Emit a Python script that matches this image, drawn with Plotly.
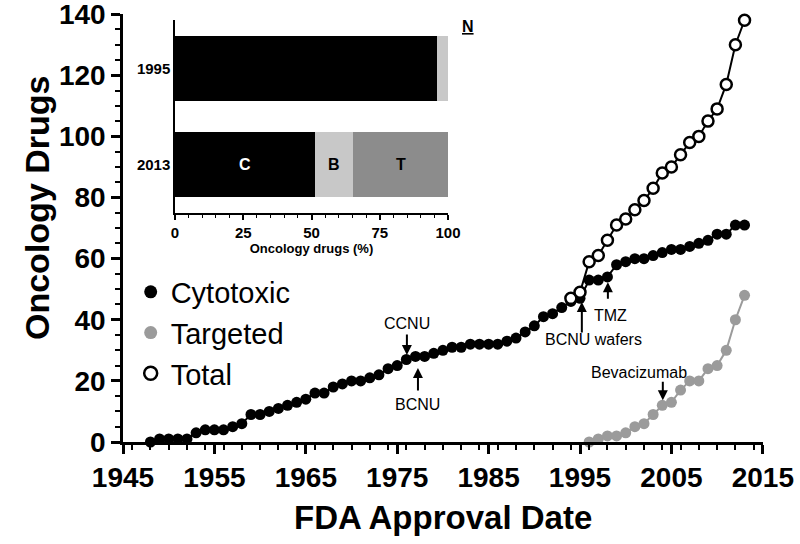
import plotly.graph_objects as go

# ---------------- data ----------------
cyt_years = list(range(1948, 2014))
cytotoxic = [0, 1, 1, 1, 1, 3, 4, 4, 4, 5, 6,
             9, 9, 10, 11, 12, 13, 14, 16, 16, 18, 19,
             20, 20, 21, 22, 24, 25, 27, 28, 28, 29,
             30, 31, 31, 32, 32, 32, 32, 33, 34, 36,
             38, 41, 42, 44, 46, 47, 53, 53, 54, 58,
             59, 60, 60, 61, 62, 63, 63, 64, 65, 66,
             68, 68, 71, 71]

tot_years = list(range(1994, 2014))
total = [47, 49, 59, 61, 66, 71, 73, 76, 79, 83, 88, 90, 94, 98, 100, 105, 109, 117, 130, 138]

tgt_years = list(range(1996, 2014))
targeted = [0, 1, 2, 2, 3, 5, 6, 9, 12, 13, 17, 20, 20, 24, 25, 30, 40, 48]

# inset: counts by class
inset_years = ["1995", "2013"]
inset_cyt = [47, 71]
inset_bio = [2, 19]
inset_tgt = [0, 48]
inset_n = [49, 138]

# annotations: (label, year, value of arrow tip, arrow offset px, text year, text value)
arrows = [
    ("CCNU", 1976.06, 28.5, -22, 1976.06, 38.9),
    ("BCNU", 1977.27, 24.2, 24, 1977.27, 12.4),
    ("TMZ", 1998.05, 52.3, 18, 1998.3, 41.5),
    ("BCNU wafers", 1995.2, 45.8, 32, 1996.5, 33.4),
    ("Bevacizumab", 2004.06, 13.7, -20, 2001.5, 22.9),
]

FONT = "Liberation Sans, Arial, Helvetica, sans-serif"
GREY = "#9b9b9b"
LIGHT = "#c8c8c8"
DARK = "#8c8c8c"

fig = go.Figure()

fig.add_trace(go.Scatter(x=cyt_years, y=cytotoxic, mode="lines+markers",
                         line=dict(color="black", width=2),
                         marker=dict(color="black", size=11),
                         showlegend=False, cliponaxis=False))
fig.add_trace(go.Scatter(x=tgt_years, y=targeted, mode="lines+markers",
                         line=dict(color=GREY, width=2),
                         marker=dict(color=GREY, size=11),
                         showlegend=False, cliponaxis=False))
fig.add_trace(go.Scatter(x=tot_years, y=total, mode="lines+markers",
                         line=dict(color="black", width=2),
                         marker=dict(color="white", size=11, line=dict(color="black", width=2.5)),
                         showlegend=False, cliponaxis=False))

# legend-only entries (markers only)
fig.add_trace(go.Scatter(x=[None], y=[None], mode="markers", name="Cytotoxic",
                         marker=dict(color="black", size=13)))
fig.add_trace(go.Scatter(x=[None], y=[None], mode="markers", name="Targeted",
                         marker=dict(color=GREY, size=13)))
fig.add_trace(go.Scatter(x=[None], y=[None], mode="markers", name="Total",
                         marker=dict(color="white", size=13, line=dict(color="black", width=2.5))))

# inset stacked bars (numeric positions: 2013 -> 0, 1995 -> 1)
pct_c = [c / n * 100 for c, n in zip(inset_cyt, inset_n)]
pct_b = [b / n * 100 for b, n in zip(inset_bio, inset_n)]
pct_t = [t / n * 100 for t, n in zip(inset_tgt, inset_n)]
ypos = {"2013": 0, "1995": 1}
inset_pos = [ypos[y] for y in inset_years]
for vals, col in [(pct_c, "black"), (pct_b, LIGHT), (pct_t, DARK)]:
    fig.add_trace(go.Bar(y=inset_pos, x=vals, orientation="h", marker=dict(color=col, line=dict(width=0)),
                         width=0.67, xaxis="x2", yaxis="y2", showlegend=False))

annotations = []
for label, ax_yr, ay_v, off, tx, ty in arrows:
    annotations.append(dict(x=ax_yr, y=ay_v, xref="x", yref="y", text="", showarrow=True,
                            arrowhead=2, arrowsize=1, arrowwidth=2, arrowcolor="black",
                            ax=0, ay=off))
    annotations.append(dict(x=tx, y=ty, xref="x", yref="y", text=label, showarrow=False,
                            font=dict(family=FONT, size=16, color="black")))

# inset labels
i13 = inset_years.index("2013")
annotations.append(dict(x=pct_c[i13] / 2, y=0, xref="x2", yref="y2", text="C", showarrow=False,
                        font=dict(family=FONT, size=16, color="white", weight="bold")))
annotations.append(dict(x=pct_c[i13] + pct_b[i13] / 2, y=0, xref="x2", yref="y2", text="B",
                        showarrow=False, font=dict(family=FONT, size=16, color="black", weight="bold")))
annotations.append(dict(x=pct_c[i13] + pct_b[i13] + pct_t[i13] / 2, y=0, xref="x2", yref="y2",
                        text="T", showarrow=False,
                        font=dict(family=FONT, size=16, color="black", weight="bold")))
for p, n in zip(inset_pos, inset_n):
    annotations.append(dict(x=106, y=p, xref="x2", yref="y2", text=str(n), showarrow=False,
                            xanchor="center", font=dict(family=FONT, size=16, color="black", weight="bold")))
# "N" header
annotations.append(dict(x=(468 - 123) / 640, y=(442 - 26) / 428, xref="paper", yref="paper",
                        text="<u>N</u>", showarrow=False, xanchor="center", yanchor="middle",
                        font=dict(family=FONT, size=16, color="black", weight="bold")))
# axis titles
annotations.append(dict(x=(37 - 123) / 640, y=(442 - 208) / 428, xref="paper", yref="paper",
                        text="Oncology Drugs", textangle=-90, showarrow=False,
                        xanchor="center", yanchor="middle",
                        font=dict(family=FONT, size=34, color="black", weight="bold")))
annotations.append(dict(x=0.5, y=(442 - 517) / 428, xref="paper", yref="paper",
                        text="FDA Approval Date", showarrow=False,
                        xanchor="center", yanchor="middle",
                        font=dict(family=FONT, size=33, color="black", weight="bold")))

axis_common = dict(showline=True, linecolor="black", linewidth=2.5, ticks="outside",
                   tickcolor="black", tickwidth=2.5, ticklen=9, showgrid=False, zeroline=False,
                   mirror=False, ticklabeloverflow="allow", automargin=False)

fig.update_layout(
    template="none",
    width=800, height=544,
    margin=dict(l=123, r=37, t=14, b=102),
    plot_bgcolor="white", paper_bgcolor="white",
    font=dict(family=FONT, color="black"),
    barmode="stack",
    xaxis=dict(range=[1945, 2015.02], tick0=1945, dtick=10,
               minor=dict(dtick=2, ticks="outside", ticklen=5, tickwidth=2, tickcolor="black"),
               tickfont=dict(family=FONT, size=28, weight="bold"),
               **axis_common),
    yaxis=dict(range=[0, 140.05], tick0=0, dtick=20,
               minor=dict(dtick=5, ticks="outside", ticklen=5, tickwidth=2, tickcolor="black"),
               tickfont=dict(family=FONT, size=28, weight="bold"),
               **axis_common),
    xaxis2=dict(domain=[0.08125, 0.5078], anchor="y2", range=[0, 100], tick0=0, dtick=25,
                showline=True, linecolor="black", linewidth=1.5, ticks="outside", tickcolor="black",
                tickwidth=1.5, ticklen=5, showgrid=False, zeroline=False, automargin=False,
                minor=dict(dtick=5, ticks="outside", ticklen=3, tickwidth=1, tickcolor="black"),
                tickfont=dict(family=FONT, size=15, weight="bold"),
                title=dict(text="Oncology drugs (%)", font=dict(family=FONT, size=13, weight="bold"), standoff=3)),
    yaxis2=dict(domain=[0.535, 0.986], anchor="x2", range=[-0.5, 1.5],
                tickmode="array", tickvals=inset_pos, ticktext=inset_years,
                showline=True, linecolor="black", linewidth=1.5, ticks="", showgrid=False,
                zeroline=False, automargin=False, tickfont=dict(family=FONT, size=15, weight="bold")),
    legend=dict(x=0.012, y=0.41, xanchor="left", yanchor="top", traceorder="normal",
                font=dict(family=FONT, size=29, color="black"), bgcolor="rgba(0,0,0,0)",
                itemwidth=30, tracegroupgap=0),
    annotations=annotations,
)

fig.write_html("out.html", config={"displayModeBar": False},
               post_script="document.body.style.margin='0px';document.body.style.overflow='hidden';")
